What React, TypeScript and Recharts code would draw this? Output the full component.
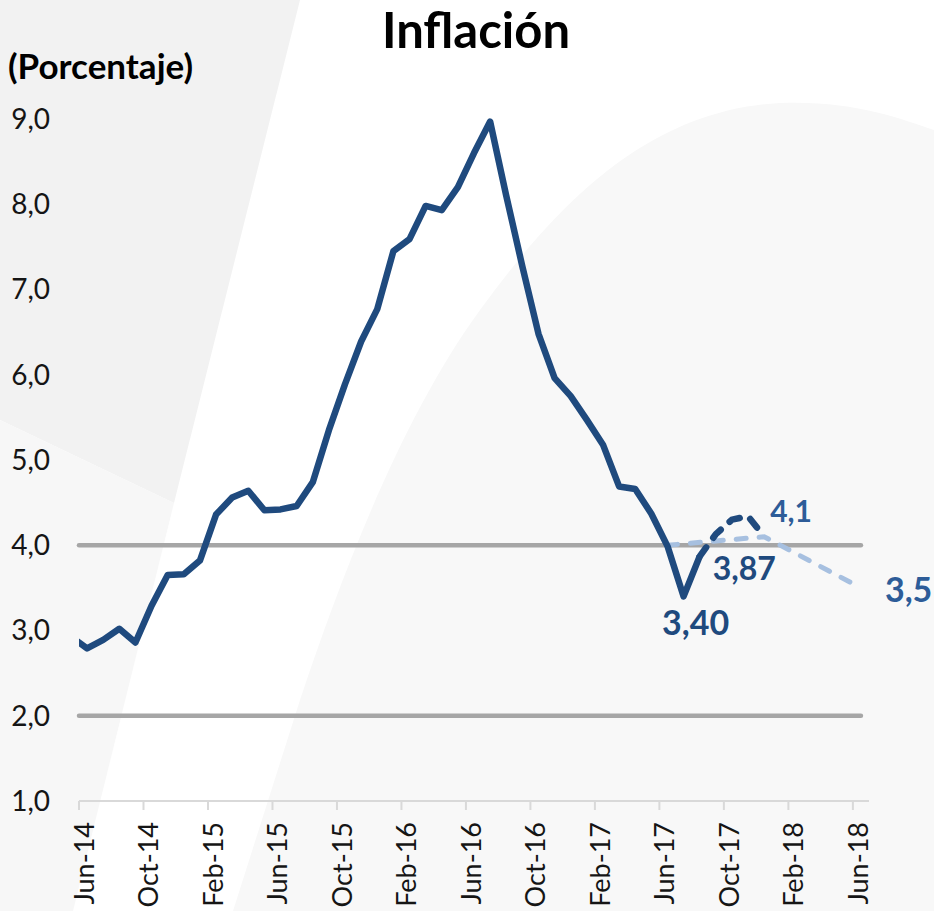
import React from 'react';
import { LineChart, Line, XAxis, YAxis, ReferenceLine } from 'recharts';

// Monthly axis runs May-14 .. Jun-18 (May-14 only feeds the clipped segment at the left edge)
const MONTH_NAMES = ['Jan', 'Feb', 'Mar', 'Apr', 'May', 'Jun', 'Jul', 'Aug', 'Sep', 'Oct', 'Nov', 'Dec'];
const FIRST_MONTH = 4; // May
const FIRST_YEAR = 14;
const N_MONTHS = 50;

const MONTHS: string[] = Array.from({ length: N_MONTHS }, (_, i) => {
  const m = FIRST_MONTH + i;
  return `${MONTH_NAMES[m % 12]}-${FIRST_YEAR + Math.floor(m / 12)}`;
});

// Observed annual inflation, May-14 .. Aug-17
const INFLACION = [
  2.93, 2.79, 2.89, 3.02, 2.86, 3.29, 3.65, 3.66,
  3.82, 4.36, 4.56, 4.64, 4.41, 4.42, 4.46, 4.74, 5.35, 5.89, 6.39, 6.77,
  7.45, 7.59, 7.98, 7.93, 8.2, 8.6, 8.97, 8.1, 7.27, 6.48, 5.96, 5.75,
  5.47, 5.18, 4.69, 4.66, 4.37, 3.99, 3.4, 3.87,
];

// Short-term path (dark dashed), Aug-17 .. Dec-17
const PRONOSTICO_DESDE = 'Aug-17';
const PRONOSTICO = [3.87, 4.13, 4.3, 4.34, 4.1];

// Expected path (light dashed)
const SENDA_MES = ['Jun-17', 'Dec-17', 'Jun-18'];
const SENDA_VALOR = [4.0, 4.1, 3.5];

// Target range bounds
const RANGO_META = [2, 4];

const TICK_LABELS = [
  'Jun-14', 'Oct-14', 'Feb-15', 'Jun-15', 'Oct-15', 'Feb-16', 'Jun-16',
  'Oct-16', 'Feb-17', 'Jun-17', 'Oct-17', 'Feb-18', 'Jun-18',
];
const Y_TICKS = [1, 2, 3, 4, 5, 6, 7, 8, 9];

// ticks sit at the start of a month, points in the middle of it
const TICK_POS = TICK_LABELS.map((l) => MONTHS.indexOf(l) - 1);
const pronosticoStart = MONTHS.indexOf(PRONOSTICO_DESDE);

const data = MONTHS.map((mes, i) => {
  const s = SENDA_MES.indexOf(mes);
  return {
    mes,
    pos: i - 0.5,
    inflacion: i < INFLACION.length ? INFLACION[i] : null,
    pronostico: i >= pronosticoStart && i - pronosticoStart < PRONOSTICO.length ? PRONOSTICO[i - pronosticoStart] : null,
    senda: s >= 0 ? SENDA_VALOR[s] : null,
  };
});

const lastPos = data[data.length - 1].pos;

const NAVY = '#1f4a7e';
const LABEL_BLUE = '#2d5c98';
const LIGHT = '#a7c0e0';
const FONT = 'Lato, "Open Sans", sans-serif';

const fmt = (v: number, d: number) => v.toFixed(d).replace('.', ',');

type Etiqueta = { dx: number; dy: number; size: number; color: string; decimals: number; anchor?: 'start' | 'middle' };

function etiquetas(cfg: Record<string, Etiqueta>) {
  return (p: any) => {
    const mes = MONTHS[p.index];
    const c = cfg[mes];
    if (!c || p.value == null) return null;
    return (
      <text
        key={`lbl-${mes}`}
        x={p.x + c.dx}
        y={p.y + c.dy}
        textAnchor={c.anchor ?? 'start'}
        fontFamily={FONT}
        fontWeight={700}
        fontSize={c.size}
        fill={c.color}
      >
        {fmt(Number(p.value), c.decimals)}
      </text>
    );
  };
}

function XTick({ x, y, payload }: any) {
  const label = TICK_LABELS[TICK_POS.indexOf(payload.value)];
  const bx = x + 15;
  return (
    <text
      x={bx}
      y={y}
      transform={`rotate(-90, ${bx}, ${y})`}
      textAnchor="end"
      fontFamily={FONT}
      fontSize={27}
      fill="#151515"
    >
      {label}
    </text>
  );
}

function Fondo() {
  return (
    <svg width={934} height={911} style={{ position: 'absolute', left: 0, top: 0 }}>
      <rect x={0} y={0} width={934} height={911} fill="#ffffff" />
      <polygon points="0,0 300,0 174,503 0,420" fill="#f2f2f2" />
      <polygon points="0,420 174,503 73,911 0,911" fill="#f7f7f7" />
      <path
        d="M 233 911 L 300 700 C 340 580, 400 420, 480 310 C 560 200, 650 110, 780 103 C 850 100, 900 118, 934 130 L 934 911 Z"
        fill="#f8f8f8"
      />
      <text x={476} y={48} textAnchor="middle" fontFamily={FONT} fontWeight={700} fontSize={49} fill="#000">
        Inflación
      </text>
      <text x={8} y={79} fontFamily={FONT} fontWeight={700} fontSize={35} fill="#000">
        (Porcentaje)
      </text>
    </svg>
  );
}

export default function App() {
  return (
    <div style={{ position: 'absolute', left: 0, top: 0, width: 934, height: 911, overflow: 'hidden' }}>
      <Fondo />
      <div style={{ position: 'absolute', left: 0, top: 0 }}>
        <LineChart width={934} height={911} data={data} margin={{ top: 119, right: 65, bottom: 0, left: 0 }}>
          <XAxis
            type="number"
            dataKey="pos"
            domain={[0, 49]}
            ticks={TICK_POS}
            interval={0}
            allowDataOverflow
            height={110}
            axisLine={{ stroke: '#d9d9d9', strokeWidth: 2 }}
            tickLine={{ stroke: '#d9d9d9', strokeWidth: 2 }}
            tickSize={9}
            tickMargin={12}
            tick={<XTick />}
          />
          <YAxis
            type="number"
            domain={[1, 9]}
            ticks={Y_TICKS}
            interval={0}
            width={79}
            axisLine={false}
            tickLine={false}
            tickSize={0}
            tickMargin={29}
            tickFormatter={(v: number) => fmt(v, 1)}
            tick={{ fontFamily: FONT, fontSize: 28, fill: '#151515' }}
          />
          {RANGO_META.map((v) => (
            <ReferenceLine
              key={`meta-${v}`}
              segment={[{ x: 0, y: v }, { x: lastPos, y: v }]}
              stroke="#a6a6a6"
              strokeWidth={4.5}
              strokeLinecap="round"
            />
          ))}
          <Line
            type="linear"
            dataKey="senda"
            stroke={LIGHT}
            strokeWidth={5}
            strokeDasharray="10 13"
            strokeLinecap="round"
            connectNulls
            dot={false}
            activeDot={false}
            isAnimationActive={false}
            label={etiquetas({ 'Jun-18': { dx: 24, dy: 14, size: 34, color: LABEL_BLUE, decimals: 1 } })}
          />
          <Line
            type="linear"
            dataKey="pronostico"
            stroke={NAVY}
            strokeWidth={6.5}
            strokeDasharray="11 12"
            strokeLinecap="round"
            dot={false}
            activeDot={false}
            isAnimationActive={false}
            label={etiquetas({ 'Dec-17': { dx: 6, dy: -15, size: 30, color: LABEL_BLUE, decimals: 1 } })}
          />
          <Line
            type="linear"
            dataKey="inflacion"
            stroke={NAVY}
            strokeWidth={6.5}
            strokeLinejoin="round"
            dot={false}
            activeDot={false}
            isAnimationActive={false}
            label={etiquetas({
              'Jul-17': { dx: 12, dy: 39, size: 34, color: NAVY, decimals: 2, anchor: 'middle' },
              'Aug-17': { dx: 13, dy: 24, size: 32, color: NAVY, decimals: 2 },
            })}
          />
        </LineChart>
      </div>
    </div>
  );
}
